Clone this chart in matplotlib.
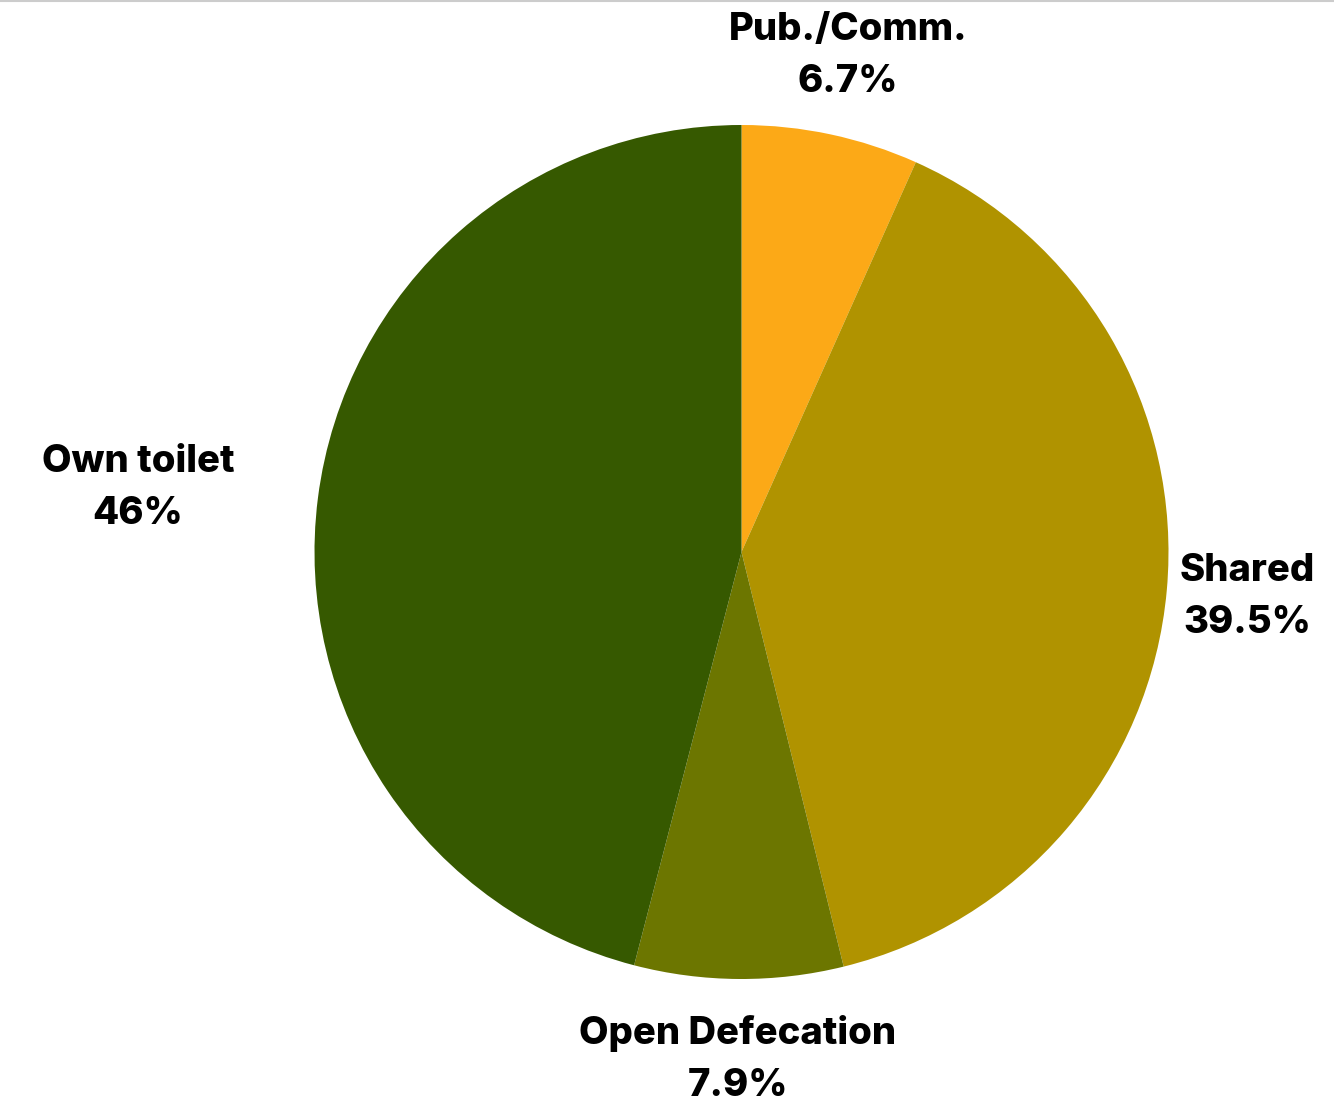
import matplotlib.pyplot as plt

# sanitation shares, clockwise from the top
labels = ['Pub./Comm.', 'Shared', 'Open Defecation', 'Own toilet']
shares = [6.7, 39.5, 7.9, 46]
pct_text = ['6.7%', '39.5%', '7.9%', '46%']
colors = ['#FCA917', '#B09300', '#6C7600', '#365900']

W, H = 1334, 1103
fig = plt.figure(figsize=(W / 100, H / 100), dpi=100)
ax = fig.add_axes([0, 0, 1, 1])

ax.pie(shares, colors=colors, startangle=90, counterclock=False,
       center=(741.5, H - 552), radius=427,
       wedgeprops=dict(linewidth=0))

# pie() resets the limits, so fix them afterwards
ax.set_xlim(0, W)
ax.set_ylim(0, H)
ax.set_aspect('equal')
ax.axis('off')

# label anchors (pixel coords from the top-left)
label_xy = [(848, 30), (1247, 571), (738, 1034), (138, 462)]
for name, pct, (x, y) in zip(labels, pct_text, label_xy):
    ax.text(x, H - y, name, ha='center', va='center', fontsize=27.5,
            fontweight='heavy', family='Inter', color='black')
    ax.text(x, H - y - 52, pct, ha='center', va='center', fontsize=27.5,
            fontweight='heavy', family='Inter', color='black')

# thin rule along the top edge
fig.add_artist(plt.Line2D([0, 1], [0.999, 0.999], color='#cccccc', lw=1.5))

fig.savefig('out.png', dpi=100)
